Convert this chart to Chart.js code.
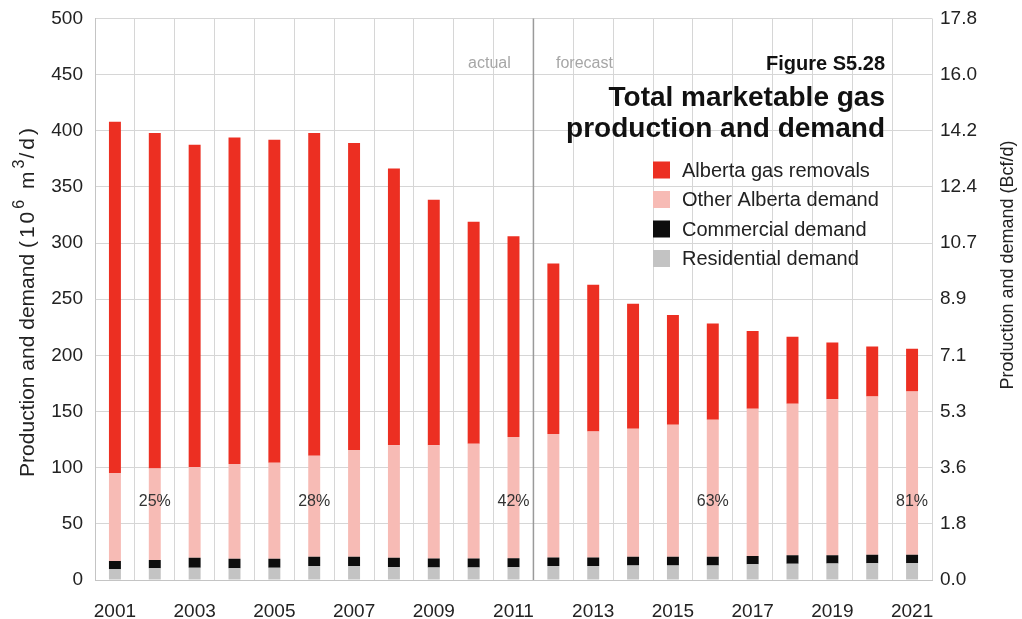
<!DOCTYPE html>
<html>
<head>
<meta charset="utf-8">
<script src="https://cdn.jsdelivr.net/npm/chart.js@4"></script>
<style>
  html, body { margin: 0; padding: 0; background: #fff; }
  #wrap { width: 1022px; height: 619px; }
</style>
</head>
<body>
<div id="wrap"><canvas id="gasChart" width="1022" height="619"></canvas></div>
<script>
const years = ['2001','2002','2003','2004','2005','2006','2007','2008','2009','2010','2011',
               '2012','2013','2014','2015','2016','2017','2018','2019','2020','2021'];

// 10^6 m3/d
const residential = [9.5, 10.4, 11.0, 10.5, 11.0, 12.4, 12.4, 11.5, 11.2, 11.2, 11.3,
                     12.4, 12.4, 12.8, 13.0, 13.0, 14.0, 14.5, 14.8, 15.0, 15.0];
const commercial  = [7.4, 7.4, 8.8, 8.5, 8.0, 8.3, 8.3, 8.3, 8.0, 8.0, 8.0,
                     7.6, 7.6, 8.0, 7.8, 7.8, 7.4, 7.5, 7.3, 7.5, 7.5];
const otherDemand = [78.4, 81.4, 80.8, 84.3, 85.5, 90.0, 95.0, 100.1, 100.7, 102.2, 108.0,
                     110.0, 112.3, 113.9, 117.5, 121.9, 131.1, 134.9, 138.9, 140.9, 145.3];
const removals    = [312.7, 298.8, 286.9, 290.7, 287.5, 287.3, 273.3, 246.6, 218.7, 197.6, 178.7,
                     151.8, 130.7, 111.3, 97.7, 85.8, 69.2, 59.8, 50.4, 44.4, 38.0];

const shareLabels = ['', '25%', '', '', '', '28%', '', '', '', '', '42%',
                     '', '', '', '', '63%', '', '', '', '', '81%'];

const bcfTicks = ['0.0','1.8','3.6','5.3','7.1','8.9','10.7','12.4','14.2','16.0','17.8'];

const FONT = "'Liberation Sans', Arial, sans-serif";
const GRID = '#d6d6d6';

// left axis title with real superscripts
function drawLeftTitle(c, cx, cy) {
    const parts = [
        { t: 'Production and demand ', size: 21, sp: 0, up: 0 },
        { t: '(10', size: 21, sp: 3, up: 0 },
        { t: '6', size: 16, sp: 2, up: 8 },
        { t: ' m', size: 21, sp: 3, up: 0 },
        { t: '3', size: 16, sp: 1, up: 8 },
        { t: '/d)', size: 21, sp: 3, up: 0 }
    ];
    c.save();
    c.translate(cx, cy);
    c.rotate(-Math.PI / 2);
    c.fillStyle = '#222';
    c.textAlign = 'left';
    c.textBaseline = 'middle';
    let total = 0;
    parts.forEach(p => {
        c.font = p.size + 'px ' + FONT;
        c.letterSpacing = p.sp + 'px';
        p.w = c.measureText(p.t).width;
        total += p.w;
    });
    let x = -total / 2;
    parts.forEach(p => {
        c.font = p.size + 'px ' + FONT;
        c.letterSpacing = p.sp + 'px';
        c.fillText(p.t, x, -p.up);
        x += p.w;
    });
    c.restore();
}

const overlay = {
    id: 'overlay',
    afterDatasetsDraw(chart) {
        const c = chart.ctx;
        const x = chart.scales.x;
        const y = chart.scales.y;
        const area = chart.chartArea;
        c.save();

        // share labels inside the bars
        c.fillStyle = '#333';
        c.font = '16px ' + FONT;
        c.textAlign = 'center';
        c.textBaseline = 'middle';
        shareLabels.forEach((t, i) => {
            if (t) c.fillText(t, x.getPixelForValue(i), y.getPixelForValue(70));
        });

        // actual / forecast divider
        const xd = (x.getPixelForValue(10) + x.getPixelForValue(11)) / 2;
        c.strokeStyle = '#9a9a9a';
        c.lineWidth = 1.5;
        c.beginPath();
        c.moveTo(xd, area.top);
        c.lineTo(xd, area.bottom);
        c.stroke();
        c.fillStyle = '#a6a6a6';
        c.font = '16px ' + FONT;
        c.fillText('actual', xd - 44, 64);
        c.fillText('forecast', xd + 51, 64);

        // title block
        c.fillStyle = '#111';
        c.textAlign = 'right';
        c.textBaseline = 'alphabetic';
        c.font = 'bold 20px ' + FONT;
        c.fillText('Figure S5.28', 885, 70);
        c.font = 'bold 28px ' + FONT;
        c.fillText('Total marketable gas', 885, 106);
        c.fillText('production and demand', 885, 137);

        // legend, top of stack first
        const sets = chart.data.datasets.slice().reverse();
        c.textAlign = 'left';
        c.textBaseline = 'middle';
        c.font = '20px ' + FONT;
        sets.forEach((ds, i) => {
            const cy = 170 + i * 29.5;
            c.fillStyle = ds.backgroundColor;
            c.fillRect(653, cy - 8.5, 17, 17);
            c.fillStyle = '#222';
            c.fillText(ds.label, 682, cy + 1);
        });

        // axis titles
        drawLeftTitle(c, 28, 301);
        c.save();
        c.translate(1008, 265);
        c.rotate(-Math.PI / 2);
        c.textAlign = 'center';
        c.font = '18px ' + FONT;
        c.fillStyle = '#222';
        c.fillText('Production and demand (Bcf/d)', 0, 0);
        c.restore();

        c.restore();
    }
};

new Chart(document.getElementById('gasChart').getContext('2d'), {
    type: 'bar',
    data: {
        labels: years,
        datasets: [
            { label: 'Residential demand', data: residential, backgroundColor: '#c3c3c3' },
            { label: 'Commercial demand', data: commercial, backgroundColor: '#0d0d0d' },
            { label: 'Other Alberta demand', data: otherDemand, backgroundColor: '#f7bbb5' },
            { label: 'Alberta gas removals', data: removals, backgroundColor: '#ec2f22' }
        ]
    },
    options: {
        responsive: false,
        animation: false,
        layout: { padding: { top: 0, left: 0, right: 0, bottom: 0 } },
        datasets: { bar: { barPercentage: 0.3, categoryPercentage: 1.0 } },
        plugins: {
            legend: { display: false },
            tooltip: { enabled: false }
        },
        scales: {
            x: {
                stacked: true,
                grid: { color: GRID, drawTicks: false, offset: true },
                border: { color: '#c4c4c4' },
                ticks: {
                    autoSkip: false,
                    maxRotation: 0,
                    padding: 20,
                    color: '#222',
                    font: { family: FONT, size: 19 },
                    callback: (v, i) => (i % 2 === 0 ? years[i] : '')
                },
                afterFit: s => { s.height = 39; }
            },
            y: {
                stacked: true,
                min: 0,
                max: 500,
                grid: { color: GRID, drawTicks: false },
                border: { color: '#c4c4c4' },
                ticks: {
                    stepSize: 50,
                    padding: 12,
                    color: '#222',
                    font: { family: FONT, size: 19, lineHeight: 0.68 }
                },
                afterFit: s => { s.width = 95; }
            },
            y2: {
                position: 'right',
                min: 0,
                max: 500,
                grid: { drawOnChartArea: false, drawTicks: false },
                border: { display: false },
                ticks: {
                    stepSize: 50,
                    padding: 8,
                    color: '#222',
                    font: { family: FONT, size: 19, lineHeight: 0.68 },
                    callback: (v, i) => bcfTicks[i]
                },
                afterFit: s => { s.width = 90; }
            }
        }
    },
    plugins: [overlay]
});
</script>
</body>
</html>
